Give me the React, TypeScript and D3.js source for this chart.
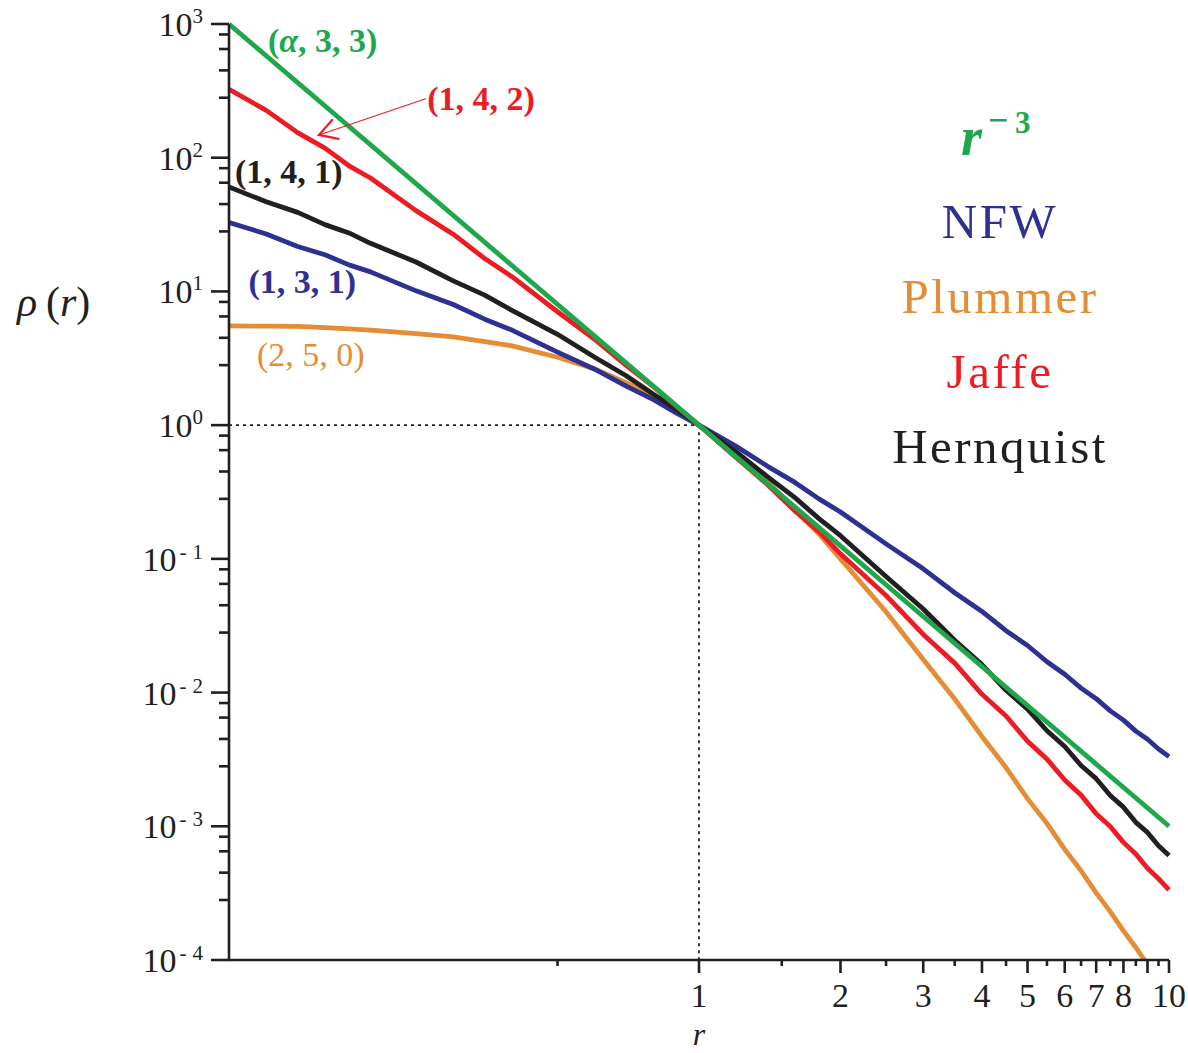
import React from "react";
import * as d3 from "d3";

// Sampled radii (in units of the scale radius) shared by all profiles
const radii = [
  0.1, 0.12, 0.14, 0.16, 0.18, 0.2, 0.25, 0.3, 0.35, 0.4, 0.5, 0.6, 0.7, 0.8, 0.9,
  1, 1.2, 1.4, 1.6, 1.8, 2, 2.5, 3, 3.5, 4, 4.5, 5, 5.5, 6, 6.5, 7, 7.5, 8, 8.5, 9,
  9.5, 10,
];

// Density profiles rho(r), normalised to 1 at r = 1
const jaffe = [
  325, 226, 154, 118, 87, 70.5, 40.2, 26.8, 17.6, 12.9, 7.05, 4.38, 2.8, 1.94, 1.36,
  1.0, 0.57, 0.358, 0.228, 0.16, 0.109, 0.0532, 0.0272, 0.0166, 0.0097, 0.00668,
  0.00432, 0.00318, 0.00222, 0.00171, 0.00124, 0.000995, 0.000758, 0.00062, 0.000485,
  0.000405, 0.000335,
];
const hernquist = [
  60.5, 46.8, 39.0, 31.6, 27.4, 22.9, 16.6, 12.0, 9.38, 7.22, 4.78, 3.22, 2.34, 1.7,
  1.3, 1.0, 0.63, 0.41, 0.287, 0.2, 0.149, 0.0738, 0.0422, 0.0246, 0.0162, 0.0104,
  0.00752, 0.00518, 0.00395, 0.00285, 0.00227, 0.0017, 0.00139, 0.00107, 0.0009,
  0.000715, 0.000605,
];
const nfw = [
  32.8, 26.9, 21.7, 18.8, 15.8, 14.0, 10.1, 7.98, 6.2, 5.14, 3.52, 2.62, 1.96, 1.55,
  1.22, 1.0, 0.694, 0.492, 0.373, 0.281, 0.224, 0.1295, 0.0842, 0.0558, 0.0404, 0.029,
  0.0225, 0.017, 0.0137, 0.0108, 0.009, 0.0073, 0.00622, 0.00515, 0.00448, 0.00378,
  0.00332,
];
const plummer = [
  5.52, 5.5, 5.47, 5.36, 5.24, 5.13, 4.84, 4.58, 4.22, 3.92, 3.22, 2.63, 2.08, 1.65,
  1.28, 1.0, 0.607, 0.377, 0.235, 0.1535, 0.1, 0.0402, 0.0177, 0.00895, 0.0047,
  0.00275, 0.00161, 0.00105, 0.000672, 0.000465, 0.000318, 0.00023, 0.000165,
  0.000124, 0.0000925, 0.0000715, 0.0000552,
];
// Reference power law r^-3
const powerRadii = [0.1, 1, 10];
const powerLaw = [1000, 1, 0.001];

// Axis ticks
const yDecades = [3, 2, 1, 0, -1, -2, -3, -4];
const yMinorFactors = [0.835, 0.65, 0.45, 0.281];
const xMajorTicks = [1, 2, 3, 4, 5, 6, 7, 8, 9, 10];
const xTickLabels = [1, 2, 3, 4, 5, 6, 7, 8, 10];
const xMinorTicks = [0.5, 1.5, 2.5, 3.5, 4.5, 5.5, 6.5, 7.5, 8.5, 9.5];

const COLORS = {
  green: "#1ea84b",
  red: "#ed1c24",
  blue: "#2e3192",
  orange: "#e58d35",
  black: "#231f20",
};

const SERIF = "'Liberation Serif', 'Times New Roman', serif";

type Pt = [number, number];

export default function App() {
  const width = 1188;
  const height = 1053;
  const x = d3.scaleLog().domain([0.1, 10]).range([229, 1169]);
  const y = d3.scaleLog().domain([1e-4, 1e3]).range([960, 24]);

  const line = d3
    .line<Pt>()
    .x((d) => x(d[0]))
    .y((d) => y(d[1]));

  const zip = (rs: number[], vs: number[]): Pt[] => rs.map((r, i) => [r, vs[i]]);

  const series = [
    { key: "plummer", values: zip(radii, plummer), color: COLORS.orange },
    { key: "nfw", values: zip(radii, nfw), color: COLORS.blue },
    { key: "hernquist", values: zip(radii, hernquist), color: COLORS.black },
    { key: "jaffe", values: zip(radii, jaffe), color: COLORS.red },
    { key: "power", values: zip(powerRadii, powerLaw), color: COLORS.green },
  ];

  const [x0, x1] = x.range();
  const [yb, yt] = y.range();

  // curve labels (anchored in data space)
  const curveLabels = [
    { text: ["(", "α", ", 3, 3)"], r: 0.121, rho: 620, color: COLORS.green, bold: true },
    { text: ["(1, 4, 2)"], r: 0.264, rho: 227, color: COLORS.red, bold: true },
    { text: ["(1, 4, 1)"], r: 0.103, rho: 64.6, color: COLORS.black, bold: true },
    { text: ["(1, 3, 1)"], r: 0.11, rho: 9.7, color: COLORS.blue, bold: true },
    { text: ["(2, 5, 0)"], r: 0.1147, rho: 2.76, color: COLORS.orange, bold: false },
  ];

  // arrow from the Jaffe label towards its curve
  const arrowFrom: Pt = [0.262, 276];
  const arrowTo: Pt = [0.1554, 148];
  const ax0 = x(arrowFrom[0]);
  const ay0 = y(arrowFrom[1]);
  const ax1 = x(arrowTo[0]);
  const ay1 = y(arrowTo[1]);
  const ang = Math.atan2(ay0 - ay1, ax0 - ax1);
  const headLen = 20;
  const headSpread = (30 * Math.PI) / 180;
  const head = [ang - headSpread, ang + headSpread].map(
    (a) => [ax1 + headLen * Math.cos(a), ay1 + headLen * Math.sin(a)] as Pt
  );

  const legend = [
    { text: "NFW", color: COLORS.blue, baseline: 238 },
    { text: "Plummer", color: COLORS.orange, baseline: 313 },
    { text: "Jaffe", color: COLORS.red, baseline: 388 },
    { text: "Hernquist", color: COLORS.black, baseline: 463 },
  ];

  return (
    <svg
      width={width}
      height={height}
      style={{ position: "absolute", left: 0, top: 0, background: "#fff" }}
      fontFamily={SERIF}
    >
      <defs>
        <clipPath id="plot-area">
          <rect x={x0} y={yt - 4} width={x1 - x0 + 6} height={yb - yt + 4} />
        </clipPath>
      </defs>

      {/* guide lines through (1, 1) */}
      <g stroke={COLORS.black} strokeWidth={1.8} strokeDasharray="3,4" fill="none">
        <line x1={x0} x2={x(1)} y1={y(1)} y2={y(1)} />
        <line x1={x(1)} x2={x(1)} y1={y(1)} y2={yb} />
      </g>

      {/* profiles */}
      <g clipPath="url(#plot-area)" fill="none" strokeWidth={4.8} strokeLinejoin="round">
        {series.map((s) => (
          <path key={s.key} d={line(s.values) ?? ""} stroke={s.color} />
        ))}
      </g>

      {/* axes */}
      <g stroke={COLORS.black} strokeWidth={2.6} fill="none">
        <line x1={x0} x2={x0} y1={yt} y2={yb} />
        <line x1={x0} x2={x1} y1={yb} y2={yb} />
        {yDecades.map((e) => (
          <line key={`yM${e}`} x1={x0 - 18} x2={x0} y1={y(10 ** e)} y2={y(10 ** e)} />
        ))}
        {yDecades.slice(0, -1).flatMap((e) =>
          yMinorFactors.map((f) => (
            <line
              key={`ym${e}-${f}`}
              x1={x0 - 10}
              x2={x0}
              y1={y(f * 10 ** e)}
              y2={y(f * 10 ** e)}
            />
          ))
        )}
        {xMajorTicks.map((t) => (
          <line key={`xM${t}`} x1={x(t)} x2={x(t)} y1={yb} y2={yb + 13} />
        ))}
        {xMinorTicks.map((t) => (
          <line key={`xm${t}`} x1={x(t)} x2={x(t)} y1={yb} y2={yb + 6} />
        ))}
      </g>

      {/* y tick labels */}
      <g fill={COLORS.black} fontSize={34} textAnchor="end">
        {yDecades.map((e) => (
          <text key={`yl${e}`} x={203} y={y(10 ** e) + 12}>
            10
            {e < 0 ? (
              <>
                <tspan fontSize={21} dy={-12} dx={3}>
                  -
                </tspan>
                <tspan fontSize={21} dx={6}>
                  {Math.abs(e)}
                </tspan>
              </>
            ) : (
              <tspan fontSize={21} dy={-13}>
                {e}
              </tspan>
            )}
          </text>
        ))}
      </g>

      {/* x tick labels */}
      <g fill={COLORS.black} fontSize={34} textAnchor="middle">
        {xTickLabels.map((t) => (
          <text key={`xl${t}`} x={x(t)} y={1007}>
            {t}
          </text>
        ))}
      </g>

      {/* axis titles */}
      <text x={17} y={316} fontSize={42} fill={COLORS.black}>
        <tspan fontStyle="italic">ρ</tspan>
        <tspan x={46}>(</tspan>
        <tspan fontStyle="italic">r</tspan>
        <tspan>)</tspan>
      </text>
      <text x={x(1)} y={1045} fontSize={32} fontStyle="italic" textAnchor="middle" fill={COLORS.black}>
        r
      </text>

      {/* curve labels */}
      {curveLabels.map((l, i) => (
        <text
          key={`cl${i}`}
          x={x(l.r)}
          y={y(l.rho)}
          fontSize={34}
          fontWeight={l.bold ? "bold" : "normal"}
          fill={l.color}
          style={{ whiteSpace: "pre" }}
        >
          {l.text.map((t, j) => (
            <tspan key={j} fontStyle={t === "α" ? "italic" : "normal"}>
              {t}
            </tspan>
          ))}
        </text>
      ))}

      {/* arrow */}
      <g stroke={COLORS.red} fill="none" strokeLinecap="round">
        <line x1={ax0} y1={ay0} x2={ax1} y2={ay1} strokeWidth={1.2} />
        <polyline
          points={`${head[0][0]},${head[0][1]} ${ax1},${ay1} ${head[1][0]},${head[1][1]}`}
          strokeWidth={2.2}
          strokeLinejoin="miter"
        />
      </g>

      {/* legend */}
      <text x={961} y={155} fill={COLORS.green} fontWeight="bold">
        <tspan fontSize={54} fontStyle="italic">r</tspan>
        <tspan x={988} y={132} fontSize={36}>−</tspan>
        <tspan x={1015} y={133} fontSize={31}>3</tspan>
      </text>
      <g fontSize={49} textAnchor="middle" letterSpacing={2.5}>
        {legend.map((l) => (
          <text key={l.text} x={1000} y={l.baseline} fill={l.color}>
            {l.text}
          </text>
        ))}
      </g>
    </svg>
  );
}
